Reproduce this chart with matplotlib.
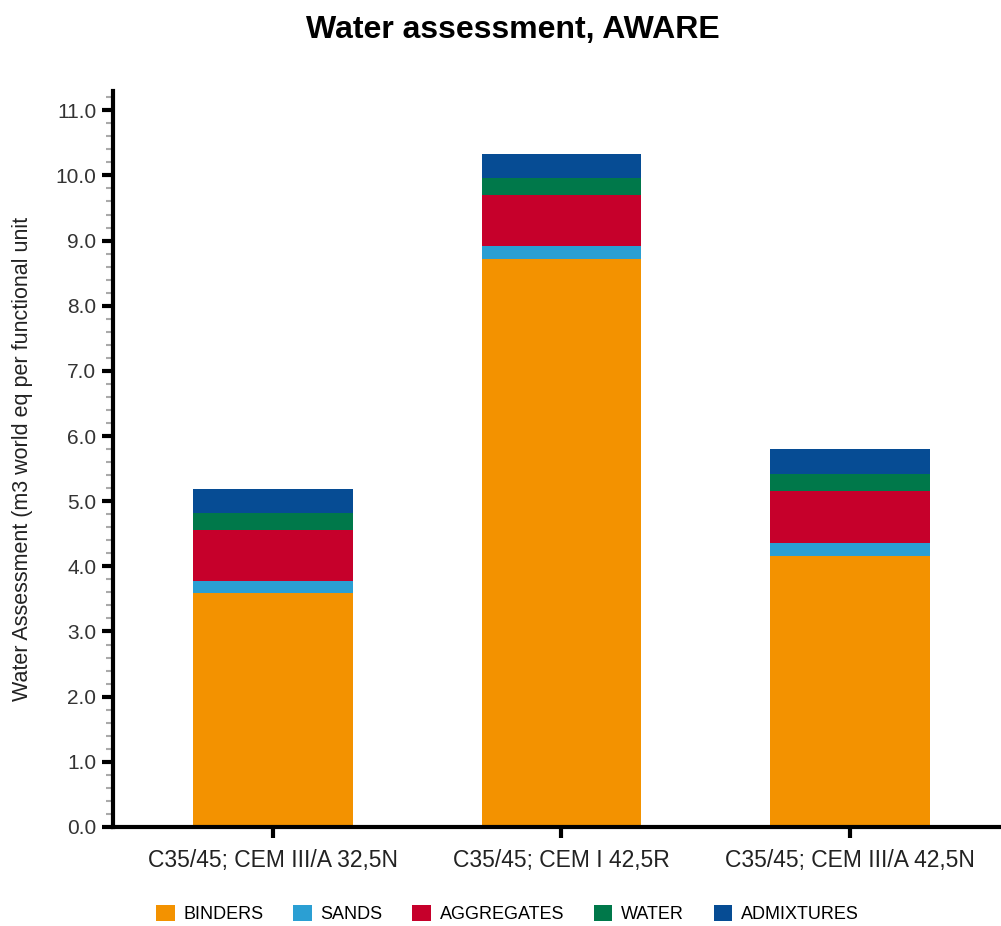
import matplotlib
matplotlib.use("Agg")
import matplotlib.pyplot as plt
import numpy as np
from matplotlib.ticker import MultipleLocator, FormatStrFormatter

plt.rcParams['font.family'] = ['Liberation Sans', 'DejaVu Sans']

categories = ["C35/45; CEM III/A 32,5N", "C35/45; CEM I 42,5R", "C35/45; CEM III/A 42,5N"]
series_names = ["BINDERS", "SANDS", "AGGREGATES", "WATER", "ADMIXTURES"]
binders = [3.59, 8.71, 4.16]
sands = [0.18, 0.20, 0.20]
aggregates = [0.79, 0.79, 0.79]
water = [0.26, 0.26, 0.27]
admixtures = [0.37, 0.37, 0.38]
colors = ["#F39200", "#2B9FD3", "#C6002B", "#00784A", "#064C94"]

fig = plt.figure(figsize=(10.01, 9.26), dpi=100)
ax = fig.add_axes([0.113, 0.107, 0.886, 0.795])

x = np.arange(len(categories))
bottom = np.zeros(len(categories))
for name, vals, c in zip(series_names, [binders, sands, aggregates, water, admixtures], colors):
    ax.bar(x, vals, width=0.553, bottom=bottom, color=c, label=name, linewidth=0)
    bottom += np.array(vals)

ax.set_xlim(-0.554, 2.52)
ax.set_ylim(0, 11.3)
ax.yaxis.set_major_locator(MultipleLocator(1.0))
ax.yaxis.set_minor_locator(MultipleLocator(0.2))
ax.yaxis.set_major_formatter(FormatStrFormatter('%.1f'))
ax.set_xticks(x)
ax.set_xticklabels(categories, fontsize=16.5, color="#222222")
ax.tick_params(axis='y', which='major', length=8, width=3, labelsize=15, colors='black',
               labelcolor="#333333", pad=4)
ax.tick_params(axis='y', which='minor', length=5, width=1.5, colors='#aaaaaa')
ax.tick_params(axis='x', which='major', length=8, width=3, pad=8)

for s in ['top', 'right']:
    ax.spines[s].set_visible(False)
for s in ['left', 'bottom']:
    ax.spines[s].set_linewidth(3)

ax.set_ylabel("Water Assessment (m3 world eq per functional unit", fontsize=15.5,
              color="#222222", labelpad=16)
fig.suptitle("Water assessment, AWARE", x=0.512, y=0.984, fontsize=23, fontweight='bold')

fig.legend(loc='center', bbox_to_anchor=(0.507, 0.013), ncol=5, frameon=False,
           fontsize=13, handlelength=1.0, handleheight=1.0, columnspacing=1.65,
           handletextpad=0.5, borderpad=0)

fig.savefig("out.png", dpi=100, facecolor='white')
